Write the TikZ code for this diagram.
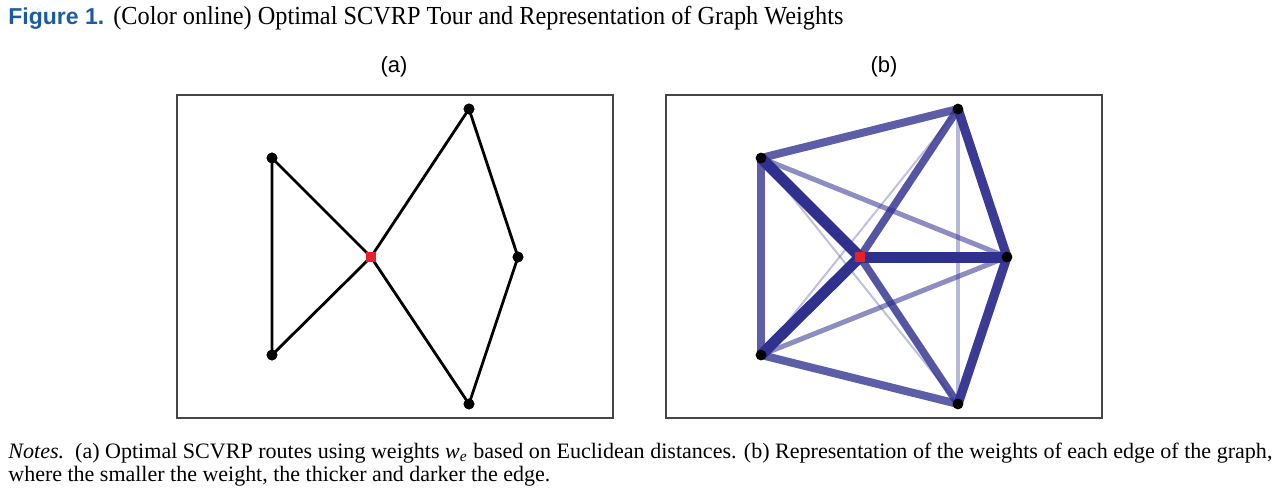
\documentclass[tikz,border=0pt]{standalone}
\usepackage{fontspec}
\setmainfont{Liberation Serif}
\newfontfamily\arialf{Liberation Sans}
\usepackage{graphicx}
\definecolor{edgec}{RGB}{48,48,143}
\definecolor{figblue}{RGB}{29,90,166}
\definecolor{depotred}{RGB}{232,32,40}
\definecolor{framec}{RGB}{70,70,70}
\begin{document}
\begin{tikzpicture}[x=0.5pt,y=-0.5pt,
  dot/.style={circle,fill=black,inner sep=0pt,minimum size=5.4pt},
  depot/.style={rectangle,fill=depotred,inner sep=0pt,minimum size=4.8pt},
  frame/.style={draw=framec,line width=0.7pt},
  tour/.style={draw=black,line width=1.4pt},
  txt/.style={anchor=base west,inner sep=0pt},
  wA/.style={draw=edgec,line width=5.5pt},
  wB/.style={draw=edgec,line width=4.6pt,draw opacity=0.95},
  wC/.style={draw=edgec,line width=4pt,draw opacity=0.78},
  wD/.style={draw=edgec,line width=3.8pt,draw opacity=0.82},
  wE/.style={draw=edgec,line width=2.5pt,draw opacity=0.55},
  wF/.style={draw=edgec,line width=1.6pt,draw opacity=0.35},
  wG/.style={draw=edgec,line width=1pt,draw opacity=0.3}]
\useasboundingbox (0,0) rectangle (1280,494);
% title
\node[txt] (fig) at (8,24) {\arialf\bfseries\fontsize{11.5}{13}\selectfont\color{figblue}Figure 1.};
\node[txt] (ttl) at (113,24) {\resizebox{365pt}{\height}{\fontsize{13}{15}\selectfont (Color online) Optimal SCVRP Tour and Representation of Graph Weights}};
% panel labels
\node[inner sep=0pt] (la) at (394,67) {\arialf\fontsize{11}{13}\selectfont (a)};
\node[inner sep=0pt] (lb) at (884,67) {\arialf\fontsize{11}{13}\selectfont (b)};
% frames
\draw[frame] (177,95) rectangle (613,418);
\draw[frame] (666,95) rectangle (1102,418);
% panel (a) nodes
\node[dot] (aTL) at (272,158) {};
\node[dot] (aBL) at (272,355) {};
\node[dot] (aT) at (469,109) {};
\node[dot] (aR) at (518,257) {};
\node[dot] (aB) at (469,404) {};
\node[depot] (aD) at (371,257) {};
\draw[tour] (aD.center) -- (aTL.center) -- (aBL.center) -- (aD.center) -- (aT.center) -- (aR.center) -- (aB.center) -- (aD.center);
\node[dot] at (aTL) {};
\node[dot] at (aBL) {};
\node[dot] at (aT) {};
\node[dot] at (aR) {};
\node[dot] at (aB) {};
\node[depot] at (aD) {};
% panel (b) coordinates
\coordinate (bTL) at (761,158);
\coordinate (bBL) at (761,355);
\coordinate (bT) at (958,109);
\coordinate (bR) at (1007,257);
\coordinate (bB) at (958,404);
\coordinate (bD) at (860,257);
% edges, light first
\draw[wG] (bTL) -- (bB);
\draw[wG] (bBL) -- (bT);
\draw[wF] (bT) -- (bB);
\draw[wE] (bTL) -- (bR);
\draw[wE] (bBL) -- (bR);
\draw[wC] (bTL) -- (bBL);
\draw[wC] (bTL) -- (bT);
\draw[wC] (bBL) -- (bB);
\draw[wD] (bT) -- (bD);
\draw[wD] (bD) -- (bB);
\draw[wB] (bT) -- (bR);
\draw[wB] (bR) -- (bB);
\draw[wA] (bTL) -- (bD);
\draw[wA] (bBL) -- (bD);
\draw[wA] (bD) -- (bR);
% panel (b) nodes
\node[dot] (nTL) at (bTL) {};
\node[dot] (nBL) at (bBL) {};
\node[dot] (nT) at (bT) {};
\node[dot] (nR) at (bR) {};
\node[dot] (nB) at (bB) {};
\node[depot] (nD) at (bD) {};
% notes
\node[txt] (n1) at (8,458) {\resizebox{632pt}{\height}{\fontsize{11}{13}\selectfont\textit{Notes.}\ \ (a) Optimal SCVRP routes using weights \textit{w\textsubscript{e}} based on Euclidean distances. (b) Representation of the weights of each edge of the graph,}};
\node[txt] (n2) at (8,481) {\resizebox{271pt}{\height}{\fontsize{11}{13}\selectfont where the smaller the weight, the thicker and darker the edge.}};
\end{tikzpicture}
\end{document}
